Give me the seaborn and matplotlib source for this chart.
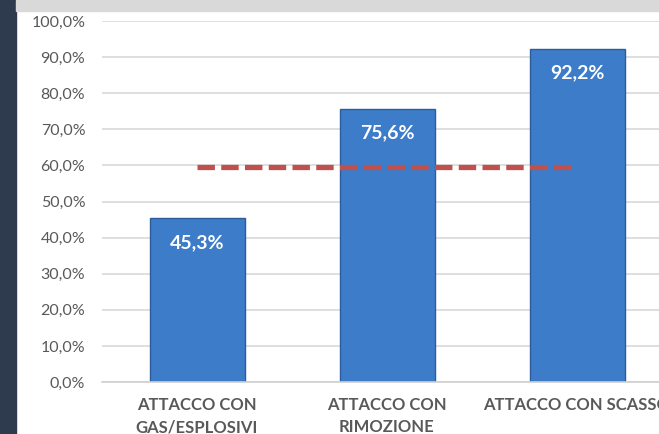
import matplotlib
matplotlib.use("Agg")
import matplotlib.pyplot as plt
import seaborn as sns
import pandas as pd
from matplotlib.patches import Rectangle
from matplotlib.ticker import FuncFormatter, FixedLocator

# data
categories = ["ATTACCO CON\nGAS/ESPLOSIVI", "ATTACCO CON\nRIMOZIONE", "ATTACCO CON SCASSO"]
values = [45.3, 75.6, 92.2]
media = [59.5, 59.5, 59.5]
value_labels = ["45,3%", "75,6%", "92,2%"]

sns.set_style("white")
plt.rcParams["font.family"] = ["Lato", "DejaVu Sans"]

df = pd.DataFrame({"cat": categories, "val": values, "media": media})

fig = plt.figure(figsize=(6.59, 4.34), dpi=100)
W, H = 659, 434
ax = fig.add_axes([102 / W, 52 / H, (W - 102) / W, 361 / H])

sns.barplot(data=df, x="cat", y="val", ax=ax, color="#3d7cc9", width=0.5,
            edgecolor="#2c5c9c", linewidth=1.0, saturation=1)
sns.lineplot(data=df, x="cat", y="media", ax=ax, color="#c0504d", linewidth=3.8,
             linestyle=(0, (3.3, 1.2)))

for i, (v, lab) in enumerate(zip(values, value_labels)):
    ax.text(i, v - 6.6, lab, ha="center", va="center", color="white",
            fontsize=14, fontweight="bold")

ax.set_ylim(0, 100)
ax.set_xlim(-0.5, -0.5 + (W - 102) / 190)
ax.set_yticks(range(0, 101, 10))
ax.yaxis.set_major_formatter(FuncFormatter(lambda y, _: f"{y:.1f}%".replace(".", ",")))
ax.grid(axis="y", color="#d9d9d9", linewidth=1.2)
ax.set_axisbelow(True)
ax.set_xlabel("")
ax.set_ylabel("")
for s in ["left", "right", "top"]:
    ax.spines[s].set_visible(False)
ax.spines["bottom"].set_color("#d0d0d0")
ax.spines["bottom"].set_linewidth(1.2)
ax.tick_params(axis="y", length=0, pad=12, labelsize=11.5, labelcolor="#595959")
ax.tick_params(axis="x", which="major", length=0, pad=11, labelsize=12, labelcolor="#595959")
for t in ax.get_xticklabels():
    t.set_fontweight("bold")
    t.set_linespacing(1.45)
ax.xaxis.set_minor_locator(FixedLocator([0.5, 1.5]))
ax.tick_params(axis="x", which="minor", length=6, color="#d0d0d0", width=1.2)

# page decorations around the chart
fig.patches.append(Rectangle((0, 0), 16 / W, 1, transform=fig.transFigure,
                             color="#2e3a4d", zorder=5))
fig.patches.append(Rectangle((16 / W, 1 - 11 / H), 1, 11 / H, transform=fig.transFigure,
                             color="#d9d9d9", zorder=5))

plt.savefig("out.png", dpi=100)
plt.close()
